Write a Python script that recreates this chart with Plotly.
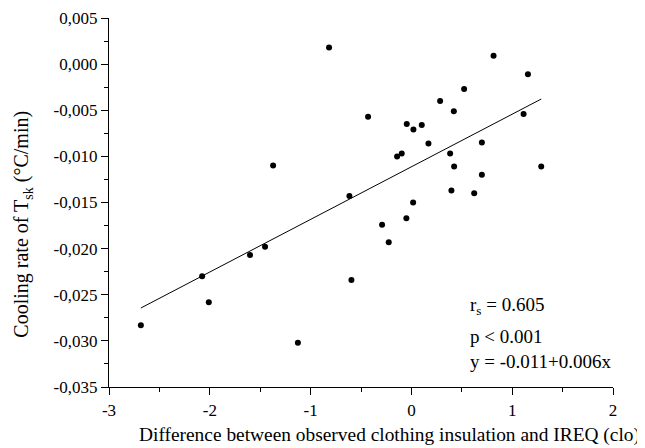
import plotly.graph_objects as go

# Data
diff_clo = [-2.684, -2.076, -2.010, -1.601, -1.452, -1.372, -1.126, -0.817, -0.615, -0.595,
            -0.430, -0.291, -0.225, -0.142, -0.096, -0.050, -0.046, 0.017, 0.020, 0.103,
            0.169, 0.285, 0.384, 0.397, 0.421, 0.424, 0.523, 0.623, 0.699, 0.699,
            0.815, 1.113, 1.156, 1.288]
cooling_rate = [-0.0283, -0.0230, -0.0258, -0.0207, -0.0198, -0.0110, -0.0302, 0.0018, -0.0143, -0.0234,
                -0.0057, -0.0174, -0.0193, -0.0100, -0.0097, -0.0167, -0.0065, -0.0150, -0.0071, -0.0066,
                -0.0086, -0.0040, -0.0097, -0.0137, -0.0051, -0.0111, -0.0027, -0.0140, -0.0085, -0.0120,
                0.0009, -0.0054, -0.0011, -0.0111]

fit_intercept = -0.01113
fit_slope = 0.005703

x_ticks = [-3, -2, -1, 0, 1, 2]
y_ticks = [0.005, 0.0, -0.005, -0.010, -0.015, -0.020, -0.025, -0.030, -0.035]
y_ticktext = ["0,005", "0,000", "-0,005", "-0,010", "-0,015", "-0,020", "-0,025", "-0,030", "-0,035"]

stats_lines = ["r<sub>s</sub> = 0.605", "p &lt; 0.001", "y = -0.011+0.006x"]
stats_y = [-0.02627, -0.02951, -0.03222]

x_title = "Difference between observed clothing insulation and IREQ (clo)"
y_title = "Cooling rate of T<sub>sk</sub> (°C/min)"

fit_x = [min(diff_clo), max(diff_clo)]
fit_y = [fit_intercept + fit_slope * v for v in fit_x]

FONT = "Liberation Serif, Times New Roman, serif"

fig = go.Figure()
fig.add_trace(go.Scatter(x=fit_x, y=fit_y, mode="lines",
                         line=dict(color="black", width=1), hoverinfo="skip"))
fig.add_trace(go.Scatter(x=diff_clo, y=cooling_rate, mode="markers",
                         marker=dict(color="black", size=6)))

for txt, yy in zip(stats_lines, stats_y):
    fig.add_annotation(x=0.57, y=yy, xref="x", yref="y", text=txt, showarrow=False,
                       xanchor="left", yanchor="middle", borderpad=0,
                       font=dict(family=FONT, size=19, color="black"))

# axis titles placed as annotations (offset like the reference)
fig.add_annotation(x=-0.22, y=0, xref="x", yref="paper", text=x_title, showarrow=False,
                   xanchor="center", yanchor="middle", yshift=-48, borderpad=0,
                   font=dict(family=FONT, size=19.4, color="black"))
fig.add_annotation(x=0, y=0.44, xref="paper", yref="paper", text=y_title, showarrow=False,
                   xanchor="center", yanchor="middle", xshift=-86, textangle=-90,
                   font=dict(family=FONT, size=20, color="black"))

# page body has an 8px margin, so the figure is sized to fit the 645x448 window
fig.update_layout(
    width=637, height=440,
    margin=dict(l=101, r=32, t=10, b=61, autoexpand=False),
    paper_bgcolor="white", plot_bgcolor="white",
    showlegend=False,
    font=dict(family=FONT, size=16, color="black"),
)
fig.update_xaxes(
    range=[-3, 2], tickvals=x_ticks, ticktext=[str(v) for v in x_ticks],
    showgrid=False, zeroline=False, showline=True, linecolor="black", linewidth=1.3,
    ticks="outside", ticklen=7, tickwidth=1.3, tickcolor="black",
    minor=dict(dtick=0.5, ticks="outside", ticklen=4, tickwidth=1.3, tickcolor="black", showgrid=False),
    tickfont=dict(family=FONT, size=17), automargin=False,
)
fig.update_yaxes(
    range=[-0.035, 0.005], tickvals=y_ticks, ticktext=y_ticktext,
    showgrid=False, zeroline=False, showline=True, linecolor="black", linewidth=1.3,
    ticks="outside", ticklen=7, tickwidth=1.3, tickcolor="black",
    minor=dict(dtick=0.0025, tick0=0, ticks="outside", ticklen=4, tickwidth=1.3, tickcolor="black", showgrid=False),
    tickfont=dict(family=FONT, size=17), automargin=False,
)

fig.write_html("out.html")
